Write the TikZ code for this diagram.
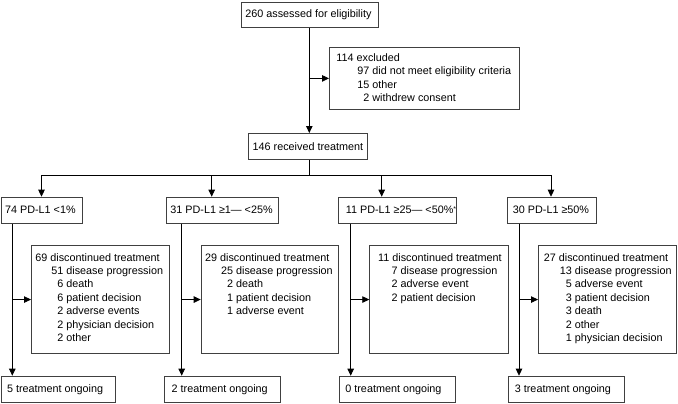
\documentclass[tikz,border=0pt]{standalone}
\usepackage{fontspec}
\setmainfont{Liberation Sans}
\usetikzlibrary{arrows.meta}

\begin{document}
\begin{tikzpicture}[x=1pt,y=-1pt,
    font=\fontsize{10.8}{13.4}\selectfont,
    box/.style={draw=black!75,line width=0.8pt,anchor=north west,align=flush left,inner xsep=4pt,inner ysep=0pt},
    listbox/.style={box,inner ysep=4pt},
    arr/.style={line width=0.8pt,-{Triangle[width=6.5pt,length=7pt]}},
    ln/.style={line width=0.8pt}]
  \useasboundingbox (0,0) rectangle (678,404);

  \node (elig) at (241,2) [box,text width=129,minimum height=25] {260 assessed for eligibility};
  \node (excl) at (329,47) [listbox,inner xsep=7pt,text width=176,text height=10.2pt,text depth=43.8pt]
    {114 excluded\\
     \hspace*{21pt}97 did not meet eligibility criteria\\
     \hspace*{21pt}15 other\\
     \hspace*{27pt}2 withdrew consent};
  \node (treat) at (248.3,133) [box,text width=111,minimum height=26.3] {146 received treatment};

  \node (pd1) at (0.7,196.7) [box,text width=73.3,minimum height=26] {74 PD-L1 <1\%};
  \node (pd2) at (166,196.7) [box,text width=103.7,minimum height=26] {31 PD-L1 ≥1— <25\%};
  \node (pd3) at (338,196.7) [box,text width=110,minimum height=26]
    {\mbox{\hspace*{3.5pt}11 PD-L1 ≥25— <50\%\rlap{\raisebox{2pt}{\scriptsize*}}}};
  \node (pd4) at (507,196.7) [box,text width=81,minimum height=26] {\hspace*{1.5pt}30 PD-L1 ≥50\%};

  \node (disc1) at (31,245) [listbox,text width=130,text height=11.6pt,text depth=88.7pt]
    {69 discontinued treatment\\
     \hspace*{16pt}51 disease progression\\
     \hspace*{22pt}6 death\\
     \hspace*{22pt}6 patient decision\\
     \hspace*{22pt}2 adverse events\\
     \hspace*{22pt}2 physician decision\\
     \hspace*{22pt}2 other};
  \node (disc2) at (200.7,245) [listbox,text width=129.3,text height=11.6pt,text depth=88.7pt]
    {29 discontinued treatment\\
     \hspace*{16pt}25 disease progression\\
     \hspace*{22pt}2 death\\
     \hspace*{22pt}1 patient decision\\
     \hspace*{22pt}1 adverse event};
  \node (disc3) at (369.3,245) [listbox,text width=130.5,text height=11.6pt,text depth=88.7pt]
    {\hspace*{4.5pt}11 discontinued treatment\\
     \hspace*{18pt}7 disease progression\\
     \hspace*{18pt}2 adverse event\\
     \hspace*{18pt}2 patient decision};
  \node (disc4) at (538,245) [listbox,text width=130,text height=11.6pt,text depth=88.7pt]
    {\hspace*{1.5pt}27 discontinued treatment\\
     \hspace*{17.5pt}13 disease progression\\
     \hspace*{23.5pt}5 adverse event\\
     \hspace*{23.5pt}3 patient decision\\
     \hspace*{23.5pt}3 death\\
     \hspace*{23.5pt}2 other\\
     \hspace*{23.5pt}1 physician decision};

  \node (ong1) at (1,375.7) [box,inner xsep=5.7pt,text width=102.6,minimum height=26.5] {5 treatment ongoing};
  \node (ong2) at (164.3,375.7) [box,inner xsep=7pt,text width=102,minimum height=26.5] {2 treatment ongoing};
  \node (ong3) at (339,375.7) [box,inner xsep=6pt,text width=104,minimum height=26.5] {0 treatment ongoing};
  \node (ong4) at (508,375.7) [box,inner xsep=6.5pt,text width=103,minimum height=26.5] {3 treatment ongoing};

  \coordinate (split) at (309.3,175);
  \coordinate (c1) at (41.5,175);
  \coordinate (c2) at (211.7,175);
  \coordinate (c3) at (381.7,175);
  \coordinate (c4) at (551,175);
  \coordinate (v1) at (12.3,0);
  \coordinate (v2) at (181.7,0);
  \coordinate (v3) at (350.7,0);
  \coordinate (v4) at (519,0);

  \draw[arr] (split |- elig.south) -- (split |- treat.north);
  \draw[arr] (split |- excl.west) -- (excl.west);
  \draw[ln] (split |- treat.south) -- (split);
  \draw[ln] (c1) -- (c4);
  \draw[arr] (c1) -- (c1 |- pd1.north);
  \draw[arr] (c2) -- (c2 |- pd2.north);
  \draw[arr] (c3) -- (c3 |- pd3.north);
  \draw[arr] (c4) -- (c4 |- pd4.north);

  \draw[arr] (v1 |- pd1.south) -- (v1 |- ong1.north);
  \draw[arr] (v2 |- pd2.south) -- (v2 |- ong2.north);
  \draw[arr] (v3 |- pd3.south) -- (v3 |- ong3.north);
  \draw[arr] (v4 |- pd4.south) -- (v4 |- ong4.north);
  \draw[arr] (v1 |- disc1.west) -- (disc1.west);
  \draw[arr] (v2 |- disc2.west) -- (disc2.west);
  \draw[arr] (v3 |- disc3.west) -- (disc3.west);
  \draw[arr] (v4 |- disc4.west) -- (disc4.west);
\end{tikzpicture}
\end{document}
